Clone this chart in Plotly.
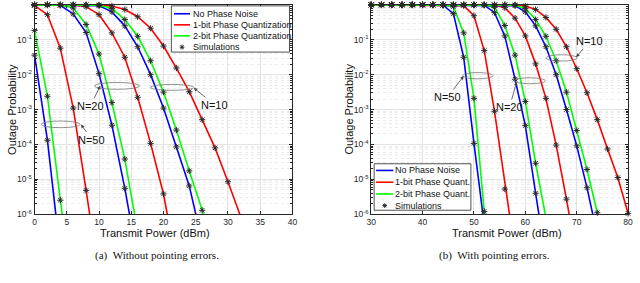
import plotly.graph_objects as go

# ---------------- data ----------------
X_LEFT = [0, 2, 4, 6, 8, 10, 12, 14, 16, 18, 20, 22, 24, 26, 28, 30, 32, 34, 36, 38, 40]
X_RIGHT = [30, 32, 34, 36, 38, 40, 42, 44, 46, 48, 50, 52, 54, 56, 58, 60, 62, 64, 66, 68, 70, 72, 74, 76, 78, 80]

# (a) Without pointing errors  (values start at X_LEFT[0])
L_NOPN_50 = [3.63e-2, 1.32e-4, 7.2e-8]
L_Q1_50 = [0.955, 0.525, 5.75e-2, 1.10e-3, 4.79e-6, 1.6e-8]
L_Q2_50 = [0.186, 2.40e-3, 2.51e-6, 5e-9]
L_NOPN_20 = [1, 1, 0.98, 0.550, 0.162, 1.07e-2, 3.55e-4, 5.5e-6, 5e-8]
L_Q1_20 = [1, 1, 1, 1, 0.89, 0.525, 0.158, 3.16e-2, 2.24e-3, 1.07e-4, 3.80e-6, 4e-8]
L_Q2_20 = [1, 1, 0.99, 0.813, 0.275, 3.89e-2, 1.58e-3, 3.80e-5, 3.16e-7]
L_NOPN_10 = [1, 1, 1, 1, 1, 0.955, 0.631, 0.251, 6.31e-2, 1.0e-2, 1.10e-3, 8.51e-5, 6.46e-6, 1.6e-7]
L_Q1_10 = [1, 1, 1, 1, 1, 1, 0.933, 0.741, 0.457, 0.214, 6.61e-2, 1.55e-2, 3.24e-3, 5.13e-4,
           7.94e-5, 8.51e-6, 9.33e-7, 8e-8]
L_Q2_10 = [1, 1, 1, 1, 1, 0.98, 0.794, 0.380, 0.126, 2.51e-2, 3.16e-3, 2.57e-4, 1.74e-5, 1.29e-6, 1e-7]

# (b) With pointing errors  (values start at X_RIGHT[0])
R_NOPN_50 = [1, 1, 1, 1, 1, 1, 1, 0.98, 0.562, 3.16e-2, 1.07e-4, 5e-7]
R_Q1_50 = [1, 1, 1, 1, 1, 1, 1, 1, 1, 0.955, 0.490, 4.90e-2, 8.91e-4, 5.25e-6, 7.9e-8]
R_Q2_50 = [1, 1, 1, 1, 1, 1, 1, 1, 0.891, 0.158, 2.09e-3, 1.20e-6, 3.2e-9]
R_NOPN_20 = [1, 1, 1, 1, 1, 1, 1, 1, 1, 1, 1, 0.98, 0.60, 0.129, 7.41e-3, 3.47e-4, 3.98e-6, 5e-8]
R_Q1_20 = [1, 1, 1, 1, 1, 1, 1, 1, 1, 1, 1, 1, 1, 0.832, 0.417, 0.129, 2.04e-2, 2.09e-3, 9.55e-5,
           2.69e-6, 6.3e-8]
R_Q2_20 = [1, 1, 1, 1, 1, 1, 1, 1, 1, 1, 1, 1, 0.851, 0.257, 3.63e-2, 1.70e-3, 2.88e-5, 7.94e-7]
R_NOPN_10 = [1, 1, 1, 1, 1, 1, 1, 1, 1, 1, 1, 1, 1, 1, 0.955, 0.631, 0.251, 6.31e-2, 1.0e-2,
             1.0e-3, 9.1e-5, 5.75e-6, 2.5e-7]
R_Q1_10 = [1, 1, 1, 1, 1, 1, 1, 1, 1, 1, 1, 1, 1, 1, 1, 0.933, 0.741, 0.437, 0.200, 6.31e-2,
           1.48e-2, 3.02e-3, 5.13e-4, 7.41e-5, 1.12e-5, 1.05e-6]
R_Q2_10 = [1, 1, 1, 1, 1, 1, 1, 1, 1, 1, 1, 1, 1, 1, 0.98, 0.794, 0.380, 0.126, 2.51e-2, 3.16e-3,
           2.51e-4, 1.91e-5, 1.10e-6, 8e-8]

LEGEND_LEFT = ["No Phase Noise", "1-bit Phase Quantization", "2-bit Phase Quantization", "Simulations"]
LEGEND_RIGHT = ["No Phase Noise", "1-bit Phase Quant.", "2-bit Phase Quant.", "Simulations"]
Y_TICKVALS = [1e-6, 1e-5, 1e-4, 1e-3, 1e-2, 1e-1, 1]
Y_TICKTEXT = ["10<sup>-6</sup>", "10<sup>-5</sup>", "10<sup>-4</sup>", "10<sup>-3</sup>",
              "10<sup>-2</sup>", "10<sup>-1</sup>", "10<sup>0</sup>"]
X_TICKS_LEFT = [0, 5, 10, 15, 20, 25, 30, 35, 40]
X_TICKS_RIGHT = [30, 40, 50, 60, 70, 80]
CAPTIONS = ["(a)\u00a0\u00a0Without pointing errors.", "(b)\u00a0\u00a0With pointing errors."]

# ---------------- styling ----------------
W, H = 640, 283
COL = {"nopn": "#0000ff", "q1": "#ff0000", "q2": "#00ff00"}
SANS = "Liberation Sans, Arial, Helvetica, sans-serif"
SERIF = "Liberation Serif, Times New Roman, serif"
AX = "#262626"


def fx(p):
    return p / W


def fy(p):
    return 1 - p / H


fig = go.Figure()

panels = [
    ("x", "y", X_LEFT, [(L_NOPN_50, "nopn"), (L_Q1_50, "q1"), (L_Q2_50, "q2"),
                        (L_NOPN_20, "nopn"), (L_Q1_20, "q1"), (L_Q2_20, "q2"),
                        (L_NOPN_10, "nopn"), (L_Q1_10, "q1"), (L_Q2_10, "q2")]),
    ("x2", "y2", X_RIGHT, [(R_NOPN_50, "nopn"), (R_Q1_50, "q1"), (R_Q2_50, "q2"),
                           (R_NOPN_20, "nopn"), (R_Q1_20, "q1"), (R_Q2_20, "q2"),
                           (R_NOPN_10, "nopn"), (R_Q1_10, "q1"), (R_Q2_10, "q2")]),
]

for xa, ya, xs, series in panels:
    for vals, kind in series:
        fig.add_trace(go.Scatter(x=xs[:len(vals)], y=vals, mode="lines", xaxis=xa, yaxis=ya,
                                 line=dict(color=COL[kind], width=1.6), showlegend=False,
                                 hoverinfo="skip"))
    for vals, kind in series:
        mx = [x for x, v in zip(xs, vals) if v >= 9e-7]
        my = [v for v in vals if v >= 9e-7]
        fig.add_trace(go.Scatter(x=mx, y=my, mode="markers", xaxis=xa, yaxis=ya, cliponaxis=False,
                                 marker=dict(symbol="asterisk", size=5.2, color="#2a2a2a",
                                             line=dict(width=1.0, color="#2a2a2a")),
                                 showlegend=False, hoverinfo="skip"))

Y_MINOR = [m * 10.0 ** k for k in range(-6, 0) for m in range(2, 10)]

common = dict(showline=True, linecolor=AX, linewidth=1, mirror="ticks", ticks="inside",
              ticklen=3, tickcolor=AX, tickwidth=1,
              tickfont=dict(family=SANS, size=8.5, color=AX),
              showgrid=True, gridcolor="#e3e3e3", gridwidth=1, zeroline=False)
yax = dict(common, type="log", range=[-6, 0], tickmode="array", tickvals=Y_TICKVALS,
           ticktext=Y_TICKTEXT,
           minor=dict(tickmode="array", tickvals=Y_MINOR, ticks="inside", ticklen=2,
                      tickcolor=AX, showgrid=True, gridcolor="#ebebeb", griddash="dot"),
           domain=[fy(218), fy(5)])

fig.update_layout(
    width=W, height=H, autosize=False,
    margin=dict(l=0, r=0, t=0, b=0),
    paper_bgcolor="white", plot_bgcolor="white",
    showlegend=False,
    xaxis=dict(common, range=[0, 40], tickmode="array", tickvals=X_TICKS_LEFT,
               domain=[fx(30), fx(292)], anchor="y"),
    yaxis=dict(yax, anchor="x"),
    xaxis2=dict(common, range=[30, 80], tickmode="array", tickvals=X_TICKS_RIGHT,
                domain=[fx(372), fx(633)], anchor="y2"),
    yaxis2=dict(yax, anchor="x2"),
)

ann = []
shapes = []

# axis titles & captions
for cx, xt_x in [(6.5, 152), (348.5, 509.5)]:
    ann.append(dict(xref="paper", yref="paper", x=fx(cx), y=fy(111.5), text="Outage Probability",
                    textangle=-90, showarrow=False, font=dict(family=SANS, size=11, color="#111"),
                    xanchor="center", yanchor="middle"))
    ann.append(dict(xref="paper", yref="paper", x=fx(xt_x), y=fy(237), text="Transmit Power (dBm)",
                    showarrow=False, font=dict(family=SANS, size=11, color="#111"),
                    xanchor="center", yanchor="middle"))
for cap, cx in zip(CAPTIONS, [154.5, 497.5]):
    ann.append(dict(xref="paper", yref="paper", x=fx(cx), y=fy(260), text=cap, showarrow=False,
                    font=dict(family=SERIF, size=11, color="#111"), xanchor="center", yanchor="middle"))

# N-group ellipses (data coordinates) and labels with arrows
ELL = [
    ("x", "y", 9.3, 16.3, -2.42, -2.225, "N=20", 10.2, -2.32, -10, 20),
    ("x", "y", 18.0, 24.7, -2.45, -2.28, "N=10", 24.7, -2.38, 21, 17),
    ("x", "y", 1.0, 7.1, -3.52, -3.33, "N=50", 7.2, -3.43, 11, 15),
    ("x2", "y2", 47.8, 53.7, -2.12, -1.94, "N=50", 48.0, -2.04, -16, 21),
    ("x2", "y2", 57.8, 63.9, -2.26, -2.09, "N=20", 58.3, -2.21, -7, 25),
    ("x2", "y2", 64.0, 70.1, -1.61, -1.43, "N=10", 69.9, -1.50, 13, -16),
]
for xa, ya, x0, x1, ly0, ly1, lab, hx, hy, axp, ayp in ELL:
    shapes.append(dict(type="circle", xref=xa, yref=ya, x0=x0, x1=x1, y0=10 ** ly0, y1=10 ** ly1,
                       line=dict(color="#777", width=0.8)))
    ann.append(dict(xref=xa, yref=ya, x=hx, y=hy, text=lab, showarrow=True, ax=axp, ay=ayp,
                    arrowhead=2, arrowsize=0.9, arrowwidth=0.8, arrowcolor="#444",
                    font=dict(family=SANS, size=11, color="#111"), standoff=0))

# custom legends (pixel layout)
LEG = [
    (LEGEND_LEFT, (169, 289, 6, 53), (171.7, 188), 189.5, [14, 25.3, 36.5, 48]),
    (LEGEND_RIGHT, (375, 473.3, 166.7, 214), (377, 394.5), 395.5, [173.5, 185.5, 197.5, 209.3]),
]
for labels, box, (lx0, lx1), tx, rows in LEG:
    shapes.append(dict(type="rect", xref="paper", yref="paper", x0=fx(box[0]), x1=fx(box[1]),
                       y0=fy(box[2]), y1=fy(box[3]), fillcolor="white",
                       line=dict(color=AX, width=0.8), layer="above"))
    for lab, ry, kind in zip(labels[:3], rows[:3], ["nopn", "q1", "q2"]):
        shapes.append(dict(type="line", xref="paper", yref="paper", x0=fx(lx0), x1=fx(lx1),
                           y0=fy(ry), y1=fy(ry), line=dict(color=COL[kind], width=1.6)))
    mxp, myp = (lx0 + lx1) / 2, rows[3]
    r = 2.4
    d = r * 0.707
    path = (f"M {fx(mxp)},{fy(myp - r)} L {fx(mxp)},{fy(myp + r)} "
            f"M {fx(mxp - r)},{fy(myp)} L {fx(mxp + r)},{fy(myp)} "
            f"M {fx(mxp - d)},{fy(myp - d)} L {fx(mxp + d)},{fy(myp + d)} "
            f"M {fx(mxp - d)},{fy(myp + d)} L {fx(mxp + d)},{fy(myp - d)}")
    shapes.append(dict(type="path", xref="paper", yref="paper", path=path,
                       line=dict(color="#2a2a2a", width=1.0)))
    for lab, ry in zip(labels, rows):
        ann.append(dict(xref="paper", yref="paper", x=fx(tx), y=fy(ry), text=lab, showarrow=False,
                        xanchor="left", yanchor="middle", font=dict(family=SANS, size=9, color="#111"),
                        borderpad=0))

fig.update_layout(annotations=ann, shapes=shapes)

PAGE_CSS = ("var s=document.createElement('style');"
            "s.innerHTML='html,body{margin:0;padding:0;overflow:hidden;width:640px;height:283px;}"
            "body>div{height:283px;overflow:hidden;}';"
            "document.head.appendChild(s);")
fig.write_html("out.html", config={"displayModeBar": False, "staticPlot": True},
               post_script=PAGE_CSS)
